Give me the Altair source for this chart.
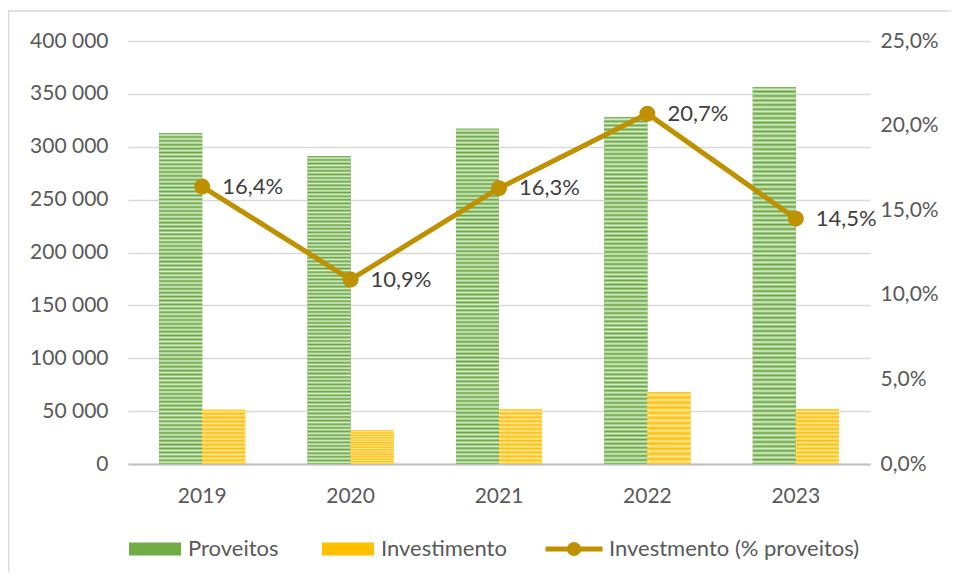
import altair as alt
import pandas as pd

# ---- data ----
years = ["2019", "2020", "2021", "2022", "2023"]
proveitos = [313000, 291000, 317000, 328000, 356500]
investimento = [51300, 31700, 51600, 67900, 51700]
pct = [0.164, 0.109, 0.163, 0.207, 0.145]

S1 = "Proveitos"
S2 = "Investimento"
S3 = "Investmento (% proveitos)"

bars_df = pd.DataFrame(
    {"year": years * 2,
     "series": [S1] * len(years) + [S2] * len(years),
     "value": proveitos + investimento}
)
line_df = pd.DataFrame({"year": years, "pct": pct, "lbl": [S3] * len(years)})

FONT = "Lato"
GRAY = "#595959"
GOLD = "#BF9000"
W, H = 742, 423
AX_FS = 21
LG_FS = 22


def stripes(dark, light, n):
    stops = []
    for i in range(n):
        a = round(i / n, 6)
        b = round((i + 0.55) / n, 6)
        stops += [
            alt.GradientStop(offset=a, color=dark),
            alt.GradientStop(offset=b, color=light),
        ]
    stops.append(alt.GradientStop(offset=1, color=dark))
    return alt.LinearGradient(gradient="linear", stops=stops, x1=0, x2=0, y1=0, y2=1)


x_enc = alt.X("year:N", title=None,
              scale=alt.Scale(paddingInner=0.42, paddingOuter=0.21),
              axis=alt.Axis(labelAngle=0, ticks=False, domain=True, domainColor="#BFBFBF",
                            domainWidth=2, labelPadding=21, labelFont=FONT,
                            labelFontSize=AX_FS, labelColor=GRAY))
xoff = alt.XOffset("series:N", scale=alt.Scale(domain=[S1, S2], paddingInner=0, paddingOuter=0))
y_scale = alt.Scale(domain=[0, 400000])
y_axis = alt.Axis(orient="left", values=list(range(0, 400001, 50000)),
                  labelExpr="replace(format(datum.value, ','), ',', ' ')",
                  grid=True, gridColor="#D9D9D9", gridWidth=1.5,
                  domain=False, ticks=False, labelPadding=20,
                  labelFont=FONT, labelFontSize=AX_FS, labelColor=GRAY)

rect_path = "M-1,-0.25H1V0.25H-1Z"
line_path = ("M-1,0H1M-0.16,0A0.16,0.16 0 1,0 0.16,0A0.16,0.16 0 1,0 -0.16,0Z"
             "M-0.06,0A0.06,0.06 0 1,0 0.06,0A0.06,0.06 0 1,0 -0.06,0Z")

base = alt.Chart(bars_df).mark_bar().encode(
    x=x_enc,
    xOffset=xoff,
    y=alt.Y("value:Q", title=None, scale=y_scale, axis=y_axis),
    fill=alt.Fill("series:N", scale=alt.Scale(domain=[S1, S2], range=["#70AD47", "#FFC000"]),
                  legend=alt.Legend(title=None, orient="none", legendX=0, legendY=481,
                                    direction="horizontal", symbolType=rect_path,
                                    symbolSize=2704, labelFont=FONT, labelFontSize=LG_FS,
                                    labelColor=GRAY, labelOffset=6, columnPadding=42,
                                    labelLimit=400, padding=0)),
)

ov1 = alt.Chart(bars_df).transform_filter(alt.datum.series == S1).mark_bar(
    fill=stripes("#65A63C", "#DCEDD0", 85)
).encode(x=x_enc, xOffset=xoff, y=alt.Y("value:Q", title=None, scale=y_scale, axis=y_axis))

ov2 = alt.Chart(bars_df).transform_filter(alt.datum.series == S2).mark_bar(
    fill=stripes("#FFBE00", "#FFE89E", 14)
).encode(x=x_enc, xOffset=xoff, y=alt.Y("value:Q", title=None, scale=y_scale, axis=y_axis))

bars = alt.layer(base, ov1, ov2)

p_scale = alt.Scale(domain=[0, 0.25])
p_axis = alt.Axis(orient="right", values=[0, 0.05, 0.10, 0.15, 0.20, 0.25],
                  labelExpr="replace(format(datum.value, '.1%'), '.', ',')",
                  grid=False, domain=False, ticks=False, labelPadding=10,
                  labelFont=FONT, labelFontSize=AX_FS, labelColor=GRAY)
line = alt.Chart(line_df).mark_line(strokeWidth=5).encode(
    x=x_enc,
    y=alt.Y("pct:Q", title=None, scale=p_scale, axis=p_axis),
    stroke=alt.Stroke("lbl:N", scale=alt.Scale(domain=[S3], range=[GOLD]),
                      legend=alt.Legend(title=None, orient="none", legendX=415, legendY=477,
                                        symbolType=line_path, symbolSize=3249,
                                        symbolStrokeWidth=5, symbolFillColor=GOLD,
                                        labelFont=FONT, labelFontSize=LG_FS, labelColor=GRAY,
                                        labelOffset=4, labelLimit=400, padding=0)),
)
pts = alt.Chart(line_df).mark_circle(size=254, color=GOLD, opacity=1).encode(
    x=x_enc, y=alt.Y("pct:Q", title=None, scale=p_scale, axis=p_axis))
txt = alt.Chart(line_df).transform_calculate(
    t="replace(format(datum.pct, '.1%'), '.', ',')"
).mark_text(align="left", baseline="middle", dx=20, font=FONT, fontSize=LG_FS,
            color="#404040").encode(
    x=x_enc, y=alt.Y("pct:Q", title=None, scale=p_scale, axis=p_axis), text="t:N")

lines = alt.layer(line, pts, txt)

frame = alt.Chart(pd.DataFrame({"a": [0]})).mark_rect(
    fill="transparent", stroke="#D9D9D9", strokeWidth=1.5
).encode(x=alt.value(-119.5), x2=alt.value(W + 200), y=alt.value(-30), y2=alt.value(H + 300))

chart = alt.layer(bars, lines, frame).resolve_scale(y="independent").properties(
    width=W, height=H,
    background="white",
    autosize=alt.AutoSizeParams(type="none"),
    padding={"left": 120, "top": 33, "right": 81, "bottom": 108},
).configure_view(stroke=None)

chart.save("out.html", embed_options={"renderer": "svg", "actions": False})
